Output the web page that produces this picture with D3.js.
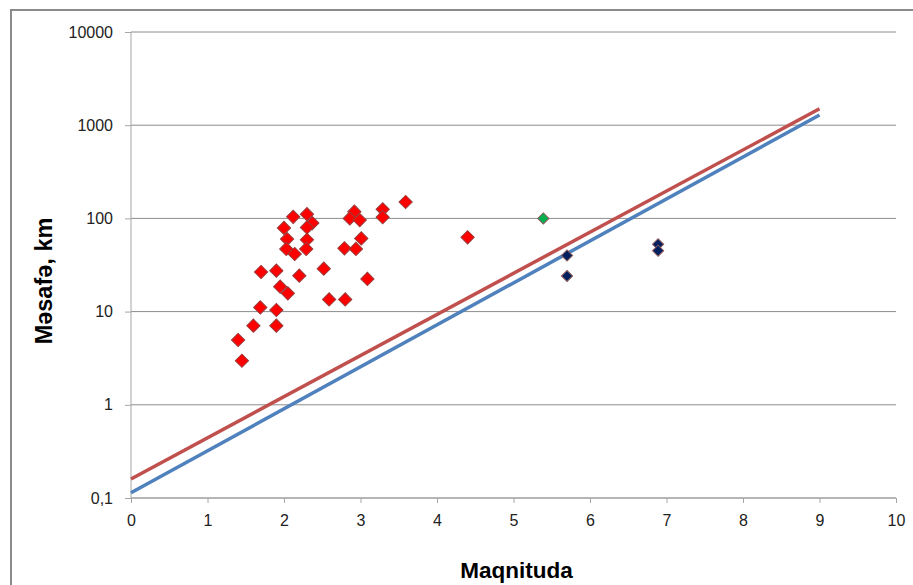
<meta charset="utf-8">
<style>
  body { margin: 0; background: #fff; }
  svg { font-family: "Liberation Sans", Arial, sans-serif; }
  .tick text { font-size: 16px; fill: #222; }
  .grid line { stroke: #8c8c8c; stroke-width: 1px; }
  .axis path, .axis line { stroke: #a6a6a6; stroke-width: 1px; }
  .title { font-weight: bold; fill: #000; }
</style>
<script src="https://cdn.jsdelivr.net/npm/d3@7"></script>
<svg id="chart" width="913" height="585"></svg>
<script>
  // red points: magnitude / distance (km)
  var redMag  = [2.12, 2.30, 2.00, 2.37, 2.30, 2.04, 2.30, 2.03, 2.14, 2.29,
                 1.70, 1.90, 2.20, 1.95, 2.05, 2.52, 2.59, 2.80, 1.69, 1.90,
                 1.60, 1.90, 1.40, 1.45, 2.92, 2.86, 2.99, 3.01, 2.79, 2.94,
                 3.09, 3.29, 3.29, 3.59, 4.40];
  var redDist = [104, 111, 79, 89, 80, 60, 59, 47, 41.5, 47,
                 26.6, 27.5, 24.3, 18.5, 15.7, 28.9, 13.5, 13.5, 11.1, 10.4,
                 7.06, 7.06, 4.96, 2.97, 118, 100, 96, 61, 47.7, 47,
                 22.4, 125, 103, 150, 62.7];
  // green point
  var greenMag  = [5.39];
  var greenDist = [100];
  // dark blue points
  var navyMag  = [5.70, 5.70, 6.89, 6.89];
  var navyDist = [40, 24.1, 52.7, 45];
  // the two boundary lines (end points)
  var lineMag  = [0, 9];
  var redLine  = [0.16, 1500];
  var blueLine = [0.114, 1285];
  // ticks
  var xTicks = [0, 1, 2, 3, 4, 5, 6, 7, 8, 9, 10];
  var yTicks = [0.1, 1, 10, 100, 1000, 10000];
  var yTickLabels = ["0,1", "1", "10", "100", "1000", "10000"];

  var svg = d3.select('#chart');

  // outer chart border
  svg.append('rect')
    .attr('x', 11).attr('y', 10)
    .attr('width', 920).attr('height', 600)
    .attr('fill', 'none').attr('stroke', '#8a8a8a').attr('stroke-width', 2);

  var x = d3.scaleLinear().domain([0, 10]).range([131, 896]);
  var y = d3.scaleLog().domain([0.1, 10000]).range([498, 32]);

  // horizontal gridlines
  svg.append('g').attr('class', 'grid')
    .selectAll('line').data(yTicks).enter().append('line')
    .attr('x1', x(0)).attr('x2', x(10))
    .attr('y1', function(d){ return y(d); })
    .attr('y2', function(d){ return y(d); });

  // y axis
  var yAxis = d3.axisLeft(y).tickValues(yTicks).tickSize(6).tickPadding(12)
    .tickFormat(function(d, i){ return yTickLabels[i]; });
  svg.append('g').attr('class', 'axis')
    .attr('transform', 'translate(' + x(0) + ',0)')
    .call(yAxis)
    .call(function(g){ g.select('.domain').attr('d', 'M0,' + y(10000) + 'V' + y(0.1)); });

  // x axis
  var xAxis = d3.axisBottom(x).tickValues(xTicks).tickSize(5).tickPadding(12)
    .tickFormat(d3.format('d'));
  svg.append('g').attr('class', 'axis')
    .attr('transform', 'translate(0,' + y(0.1) + ')')
    .call(xAxis)
    .call(function(g){ g.select('.domain').attr('d', 'M' + x(0) + ',0H' + x(10)); });

  // lines
  var line = d3.line()
    .x(function(d){ return x(d[0]); })
    .y(function(d){ return y(d[1]); });
  svg.append('path')
    .datum(d3.zip(lineMag, blueLine))
    .attr('fill', 'none').attr('stroke', '#4f81bd').attr('stroke-width', 3.5)
    .attr('d', line);
  svg.append('path')
    .datum(d3.zip(lineMag, redLine))
    .attr('fill', 'none').attr('stroke', '#c0504d').attr('stroke-width', 3.5)
    .attr('d', line);

  function diamonds(mag, dist, size, fill, stroke) {
    var sym = d3.symbol().type(d3.symbolSquare).size(size);
    svg.append('g').selectAll('path')
      .data(d3.zip(mag, dist)).enter().append('path')
      .attr('d', sym)
      .attr('transform', function(d){
        return 'translate(' + x(d[0]) + ',' + y(d[1]) + ') rotate(45)';
      })
      .attr('fill', fill).attr('stroke', stroke).attr('stroke-width', 1);
  }
  diamonds(redMag, redDist, 88, '#ff0000', '#9b3a3a');
  diamonds(greenMag, greenDist, 62, '#00b050', '#8a5a5a');
  diamonds(navyMag, navyDist, 62, '#002060', '#8a5a5a');

  // titles
  svg.append('text').attr('class', 'title')
    .attr('x', x(5) + 3).attr('y', 578)
    .attr('text-anchor', 'middle')
    .style('font-size', '22.5px')
    .text('Maqnituda');
  svg.append('text').attr('class', 'title')
    .attr('transform', 'translate(52,281) rotate(-90)')
    .attr('text-anchor', 'middle')
    .style('font-size', '23.5px')
    .text('Məsafə, km');
</script>
